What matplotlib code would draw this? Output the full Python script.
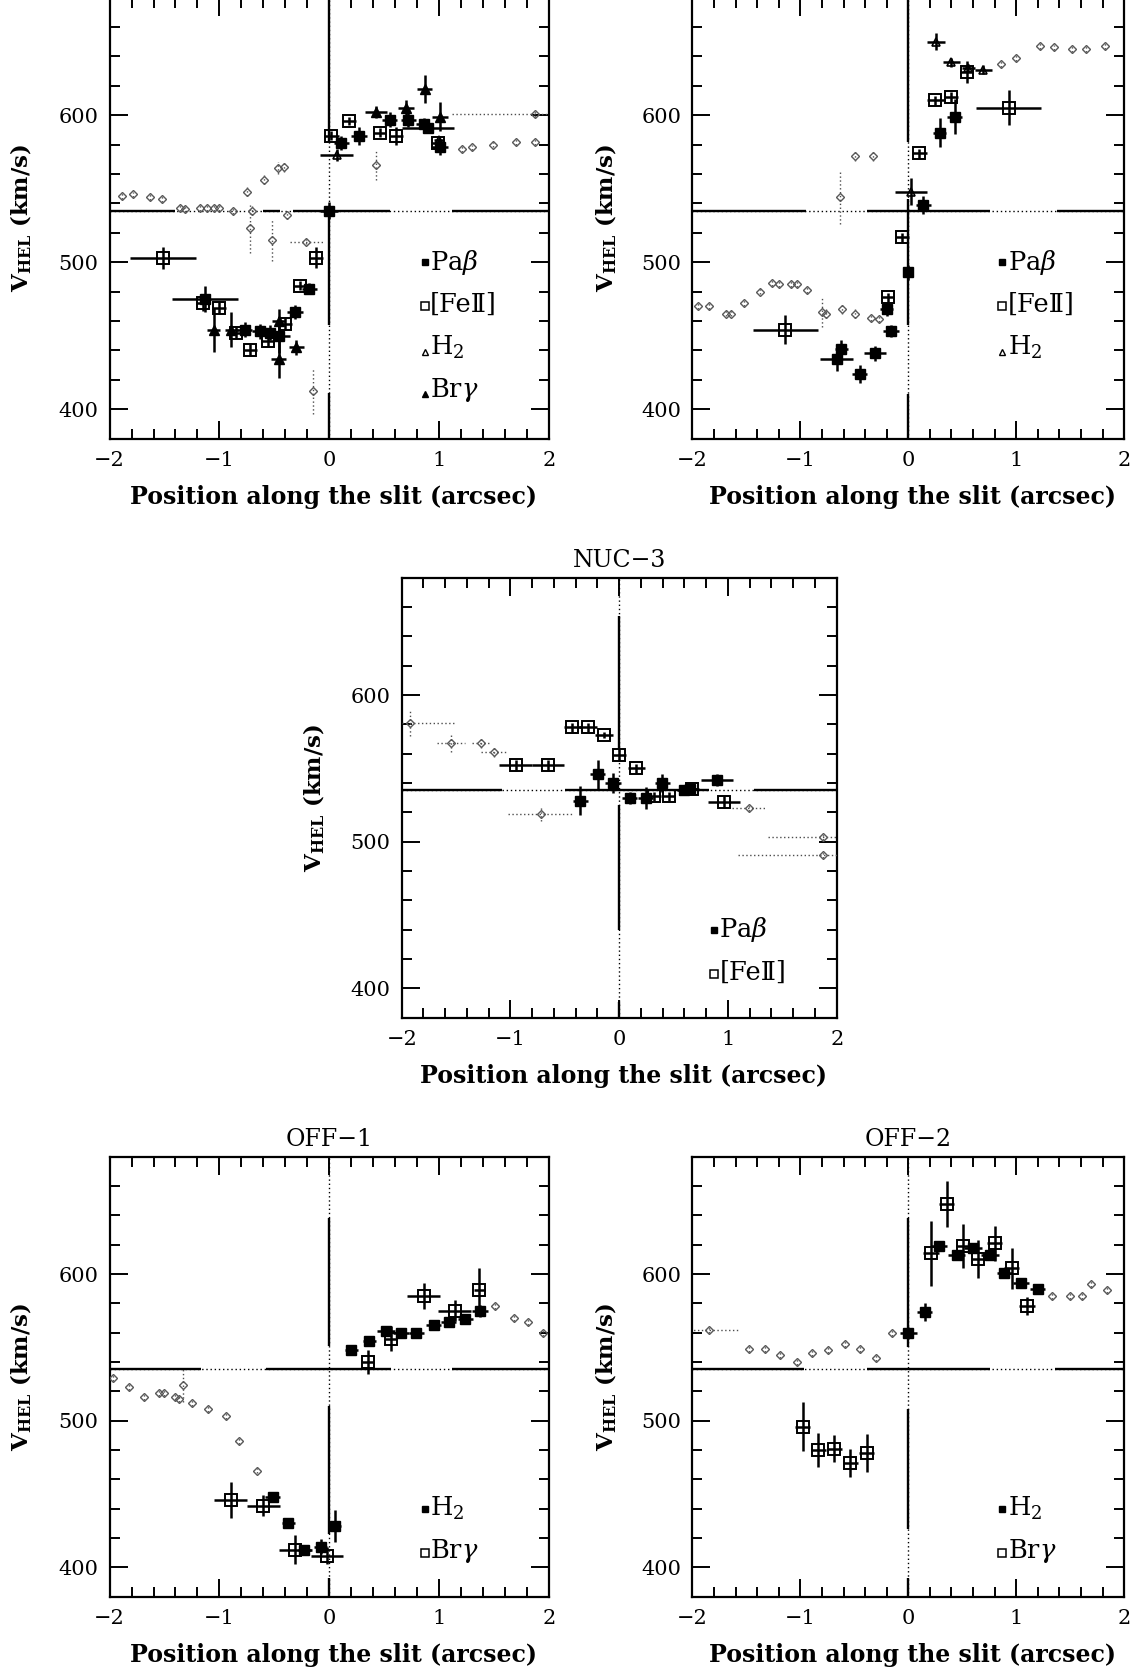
import matplotlib
matplotlib.use('Agg')
import matplotlib.pyplot as plt
from matplotlib.ticker import MultipleLocator

plt.rcParams['font.family'] = ['DejaVu Serif', 'DejaVu Sans']
plt.rcParams['mathtext.fontset'] = 'dejavuserif'

# ---------------- data ----------------
# Top-left panel
tl_pab_x = [-1.13, -0.77, -0.63, -0.54, -0.46, -0.31, -0.18, 0.00, 0.11, 0.27, 0.55, 0.72, 0.86, 0.90, 1.01]
tl_pab_y = [475, 454, 453, 452, 450, 466, 482, 535, 581, 586, 597, 597, 594, 591, 578]
tl_pab_xe = [0.30, 0.07, 0.07, 0.07, 0.10, 0.07, 0.07, 0.08, 0.07, 0.07, 0.07, 0.07, 0.07, 0.24, 0.07]
tl_pab_ye = [9, 5, 5, 5, 12, 5, 4, 6, 5, 6, 5, 5, 4, 3, 5]

tl_fe_x = [-1.51, -1.15, -1.00, -0.85, -0.72, -0.56, -0.40, -0.27, -0.12, 0.02, 0.18, 0.46, 0.61, 0.99]
tl_fe_y = [503, 472, 469, 452, 440, 446, 458, 484, 503, 586, 596, 588, 586, 581]
tl_fe_xe = [0.30, 0.06, 0.06, 0.06, 0.06, 0.06, 0.06, 0.06, 0.06, 0.07, 0.06, 0.06, 0.06, 0.06]
tl_fe_ye = [7.5, 5, 4, 4, 4, 4, 4, 3, 7, 3, 3, 3, 6, 3]

tl_h2_x = [0.07, 1.00]
tl_h2_y = [573, 583]
tl_h2_xe = [0.15, 0.05]
tl_h2_ye = [4, 3]

tl_brg_x = [-1.05, -0.89, -0.46, -0.46, -0.30, 0.43, 0.70, 0.87, 1.01]
tl_brg_y = [454, 454, 434, 460, 442, 602, 605, 618, 599]
tl_brg_xe = [0.06, 0.06, 0.07, 0.06, 0.07, 0.10, 0.07, 0.07, 0.07]
tl_brg_ye = [15, 12, 13, 8, 5, 4, 5, 9.5, 10]

tl_grey_x = [-1.89, -1.79, -1.63, -1.52, -1.36, -1.31, -1.18, -1.11, -1.05, -1.00, -0.88, -0.75, -0.70,
             -0.72, -0.59, -0.47, -0.41, -0.52, -0.38, -0.21, -0.15, 0.43, 1.21, 1.30, 1.49, 1.70, 1.87, 1.87]
tl_grey_y = [545, 546, 544, 543, 537, 536, 537, 537, 537, 537, 535, 548, 535,
             523, 556, 564, 565, 515, 532, 514, 412, 566, 577, 578, 580, 582, 582, 601]
tl_grey_xe = [0, 0, 0, 0, 0, 0, 0, 0, 0, 0, 0, 0, 0,
              0, 0, 0, 0, 0, 0, 0.15, 0, 0, 0, 0, 0, 0, 0, 0.75]
tl_grey_ye = [2, 2, 2, 2, 2, 2, 2, 2, 2, 2, 2, 3, 3,
              17, 3, 4, 4, 14, 3, 2, 15, 10, 2, 2, 2, 2, 2, 2]

# Top-right panel
tr_pab_x = [-0.665, -0.62, -0.45, -0.31, -0.20, -0.16, 0.00, 0.14, 0.29, 0.43]
tr_pab_y = [434, 441, 424, 438, 468, 453, 493, 539, 588, 599]
tr_pab_xe = [0.15, 0.06, 0.07, 0.10, 0.06, 0.07, 0.04, 0.07, 0.06, 0.07]
tr_pab_ye = [8, 6, 6, 5, 5, 4, 5, 6, 10, 12]

tr_fe_x = [-1.14, -0.19, -0.057, 0.10, 0.25, 0.40, 0.54, 0.93]
tr_fe_y = [454, 476, 517, 574, 610, 612, 629, 605]
tr_fe_xe = [0.30, 0.05, 0.06, 0.07, 0.08, 0.06, 0.06, 0.30]
tr_fe_ye = [10, 3, 3, 3, 3, 4, 7.5, 12]

tr_h2_x = [0.025, 0.256, 0.40, 0.556, 0.695]
tr_h2_y = [548, 650, 636, 632, 631]
tr_h2_xe = [0.15, 0.08, 0.08, 0.06, 0.08]
tr_h2_ye = [9, 6, 3, 3, 3]

tr_grey_x = [-1.95, -1.85, -1.69, -1.64, -1.52, -1.37, -1.26, -1.20, -1.09, -1.03, -0.935, -0.80, -0.765,
             -0.61, -0.49, -0.35, -0.27, -0.63, -0.49, -0.33, 0.86, 1.00, 1.22, 1.35, 1.52, 1.65, 1.82]
tr_grey_y = [470, 470, 465, 465, 472, 480, 486, 485, 485, 485, 481, 466, 465,
             468, 465, 462, 461, 544, 572, 572, 635, 639, 647, 646, 645, 645, 647]
tr_grey_xe = [0] * 27
tr_grey_ye = [2, 2, 2, 2, 2, 2, 2, 2, 2, 2, 2, 10, 3,
              3, 3, 2, 2, 18, 3, 3, 2, 2, 2, 2, 2, 2, 2]

# NUC-3 panel
nuc_pab_x = [-0.356, -0.196, -0.058, 0.098, 0.242, 0.395, 0.60, 0.65, 0.90]
nuc_pab_y = [528, 546, 540, 530, 530, 540, 535, 536, 542]
nuc_pab_xe = [0.07, 0.07, 0.07, 0.07, 0.07, 0.07, 0.07, 0.07, 0.15]
nuc_pab_ye = [10, 10, 7, 4, 7.5, 6, 3, 3, 4]

nuc_fe_x = [-0.953, -0.656, -0.432, -0.288, -0.141, 0.00, 0.159, 0.32, 0.457, 0.67, 0.962]
nuc_fe_y = [552, 552, 578, 578, 573, 559, 550, 531, 531, 536, 527]
nuc_fe_xe = [0.15, 0.15, 0.08, 0.08, 0.08, 0.06, 0.08, 0.06, 0.06, 0.06, 0.15]
nuc_fe_ye = [4, 4, 3, 3, 2, 4, 3, 3, 3, 2, 4]

nuc_grey_x = [-1.92, -1.55, -1.275, -1.15, -0.72, 1.19, 1.87, 1.87]
nuc_grey_y = [581, 567, 567, 561, 519, 523, 503, 491]
nuc_grey_xe = [0.40, 0.13, 0.08, 0.12, 0.30, 0.15, 0.50, 0.78]
nuc_grey_ye = [9, 6, 3, 3, 5, 2, 2, 2]

# OFF-1 panel
off1_h2_x = [-0.516, -0.373, -0.228, -0.076, 0.052, 0.203, 0.364, 0.516, 0.653, 0.795, 0.95, 1.087, 1.239, 1.375]
off1_h2_y = [448, 430, 412, 414, 428, 548, 554, 561, 560, 560, 565, 567, 569, 575]
off1_h2_xe = [0.07, 0.06, 0.06, 0.06, 0.06, 0.06, 0.06, 0.08, 0.07, 0.07, 0.07, 0.07, 0.07, 0.07]
off1_h2_ye = [3, 3, 3, 5, 11, 3, 3, 3, 3, 3, 3, 3, 3, 4]

off1_brg_x = [-0.896, -0.60, -0.31, -0.02, 0.35, 0.56, 0.86, 1.145, 1.366]
off1_brg_y = [446, 442, 412, 408, 540, 556, 585, 575, 589]
off1_brg_xe = [0.15, 0.15, 0.15, 0.15, 0.05, 0.05, 0.15, 0.15, 0.05]
off1_brg_ye = [12.5, 7, 10, 6, 8.5, 8.5, 9, 7, 15]

off1_grey_x = [-1.97, -1.82, -1.685, -1.55, -1.50, -1.40, -1.37, -1.336, -1.245, -1.108, -0.94, -0.82, -0.66,
               1.51, 1.68, 1.815, 1.95]
off1_grey_y = [529, 523, 516, 519, 519, 516, 515, 524, 512, 508, 503, 486, 466,
               578, 570, 567, 560]
off1_grey_xe = [0] * 17
off1_grey_ye = [2, 2, 2, 2, 2, 2, 2, 11, 2, 2, 2, 2, 2, 2, 2, 2, 2]

# OFF-2 panel
off2_h2_x = [0.00, 0.154, 0.284, 0.448, 0.60, 0.756, 0.889, 1.044, 1.198]
off2_h2_y = [560, 574, 619, 613, 618, 613, 601, 594, 590]
off2_h2_xe = [0.08, 0.07, 0.07, 0.08, 0.08, 0.08, 0.07, 0.07, 0.07]
off2_h2_ye = [4, 6, 3, 3, 3, 3, 3, 3, 3]

off2_brg_x = [-0.98, -0.834, -0.685, -0.537, -0.386, 0.21, 0.355, 0.51, 0.648, 0.80, 0.957, 1.10]
off2_brg_y = [496, 480, 481, 471, 478, 614, 648, 619, 610, 621, 604, 578]
off2_brg_xe = [0.07] * 12
off2_brg_ye = [17, 11.4, 9.5, 9.7, 13, 22, 15.7, 15, 13, 12, 14, 6]

off2_grey_x = [-1.85, -1.48, -1.33, -1.19, -1.034, -0.895, -0.74, -0.587, -0.448, -0.30, -0.148,
               1.328, 1.497, 1.605, 1.69, 1.84]
off2_grey_y = [562, 549, 549, 545, 540, 546, 548, 552, 549, 543, 560, 585, 585, 585, 593, 589]
off2_grey_xe = [0.28] + [0] * 15
off2_grey_ye = [2] * 16

v_sys = 535
x_ticks = [-2, -1, 0, 1, 2]
y_ticks = [400, 500, 600]
titles = ['NUC\u22123', 'OFF\u22121', 'OFF\u22122']
lab_pab = r'Pa$\beta$'
lab_fe = '[Fe\u2161]'
lab_h2 = r'H$_2$'
lab_brg = r'Br$\gamma$'

# ---------------- figure ----------------
W, H = 1138, 1668
fig = plt.figure(figsize=(W / 100, H / 100), dpi=100)


def px_axes(left, top, width, height):
    return fig.add_axes([left / W, 1 - (top + height) / H, width / W, height / H])


STY = {
    'fill_sq': dict(fmt='s', ms=6.5, mfc='k', mec='k', mew=1.0),
    'open_sq': dict(fmt='s', ms=8, mfc='none', mec='k', mew=1.4),
    'open_tri': dict(fmt='^', ms=6, mfc='none', mec='k', mew=1.2),
    'fill_tri': dict(fmt='^', ms=7.5, mfc='k', mec='k', mew=1.0),
}


def series(ax, x, y, xe, ye, kind):
    ax.errorbar(x, y, xerr=xe, yerr=ye, ecolor='k', elinewidth=1.8, capsize=0,
                zorder=4, **STY[kind])


def grey(ax, x, y, xe, ye):
    eb = ax.errorbar(x, y, xerr=xe, yerr=ye, fmt='D', ms=4.5, mfc='none', mec='0.35', mew=1.0,
                     ecolor='0.3', elinewidth=1.0, capsize=0, zorder=3)
    for c in eb[2]:
        c.set_linestyle((0, (1, 1.8)))


def ref_lines(ax, h_solid, v_solid):
    dots = (0, (1, 2.0))
    ax.plot([-2, 2], [v_sys, v_sys], color='k', lw=1.0, ls=dots, zorder=2)
    ax.plot([0, 0], [380, 680], color='k', lw=1.0, ls=dots, zorder=2)
    for a, b in h_solid:
        ax.plot([a, b], [v_sys, v_sys], color='k', lw=1.7, zorder=2, solid_capstyle='butt')
    for a, b in v_solid:
        ax.plot([0, 0], [a, b], color='k', lw=1.7, zorder=2, solid_capstyle='butt')


def frame(ax):
    ax.set_xlim(-2, 2)
    ax.set_ylim(380, 680)
    ax.set_xticks(x_ticks)
    ax.set_yticks(y_ticks)
    ax.xaxis.set_minor_locator(MultipleLocator(0.2))
    ax.yaxis.set_minor_locator(MultipleLocator(20))
    ax.tick_params(which='both', direction='in', top=True, right=True, width=1.4, labelsize=15)
    ax.tick_params(axis='x', which='major', length=13, pad=9)
    ax.tick_params(axis='y', which='major', length=13, pad=8)
    ax.tick_params(which='minor', length=7.5)
    for s in ax.spines.values():
        s.set_linewidth(1.6)
    ax.text(0.51, -0.132, 'Position along the slit (arcsec)', transform=ax.transAxes,
            ha='center', va='center', fontsize=17, fontweight='bold')
    ax.text(-0.2, 0.5, r'V$_{\mathbf{HEL}}$ (km/s)', transform=ax.transAxes, rotation=90,
            ha='center', va='center', fontsize=16.5, fontweight='bold')


def legend(ax, entries, y0, dy=29, xm=0.87):
    for i, (lab, kind) in enumerate(entries):
        yy = y0 - i * dy
        if kind == 'fill_sq':
            ax.plot([xm], [yy], 's', ms=5, mfc='k', mec='k', zorder=5)
        elif kind == 'open_sq':
            ax.plot([xm], [yy - 1], 's', ms=5.5, mfc='none', mec='k', mew=1.1, zorder=5)
        elif kind == 'open_tri':
            ax.plot([xm], [yy - 3], '^', ms=5, mfc='none', mec='k', mew=1.0, zorder=5)
        else:
            ax.plot([xm], [yy - 3], '^', ms=5, mfc='k', mec='k', zorder=5)
        ax.text(xm + 0.05, yy, lab, ha='left', va='center', fontsize=18.5, zorder=5)


# Top-left
ax = px_axes(109.6, -2.5, 439.2, 441)
ref_lines(ax, [(-2, -1.4), (-0.6, -0.45), (-0.33, 0.55), (1.12, 2)],
          [(582, 680), (457, 535), (380, 411)])
grey(ax, tl_grey_x, tl_grey_y, tl_grey_xe, tl_grey_ye)
series(ax, tl_fe_x, tl_fe_y, tl_fe_xe, tl_fe_ye, 'open_sq')
series(ax, tl_h2_x, tl_h2_y, tl_h2_xe, tl_h2_ye, 'open_tri')
series(ax, tl_pab_x, tl_pab_y, tl_pab_xe, tl_pab_ye, 'fill_sq')
series(ax, tl_brg_x, tl_brg_y, tl_brg_xe, tl_brg_ye, 'fill_tri')
frame(ax)
legend(ax, [(lab_pab, 'fill_sq'), (lab_fe, 'open_sq'), (lab_h2, 'open_tri'), (lab_brg, 'fill_tri')], 500)

# Top-right
ax = px_axes(692.4, -2.5, 431.8, 441)
ref_lines(ax, [(-2, -0.95), (-0.38, 0.756), (1.374, 2)],
          [(582, 680), (457, 543), (380, 410)])
grey(ax, tr_grey_x, tr_grey_y, tr_grey_xe, tr_grey_ye)
series(ax, tr_fe_x, tr_fe_y, tr_fe_xe, tr_fe_ye, 'open_sq')
series(ax, tr_h2_x, tr_h2_y, tr_h2_xe, tr_h2_ye, 'open_tri')
series(ax, tr_pab_x, tr_pab_y, tr_pab_xe, tr_pab_ye, 'fill_sq')
frame(ax)
legend(ax, [(lab_pab, 'fill_sq'), (lab_fe, 'open_sq'), (lab_h2, 'open_tri')], 500)

# NUC-3
ax = px_axes(401.7, 577.7, 435, 440)
ref_lines(ax, [(-2, -1.076), (-0.50, 0.825), (1.24, 2)],
          [(564, 654), (440, 525), (380, 391)])
grey(ax, nuc_grey_x, nuc_grey_y, nuc_grey_xe, nuc_grey_ye)
series(ax, nuc_fe_x, nuc_fe_y, nuc_fe_xe, nuc_fe_ye, 'open_sq')
series(ax, nuc_pab_x, nuc_pab_y, nuc_pab_xe, nuc_pab_ye, 'fill_sq')
frame(ax)
ax.set_title(titles[0], fontsize=17, pad=8)
legend(ax, [(lab_pab, 'fill_sq'), (lab_fe, 'open_sq')], 440)

# OFF-1
ax = px_axes(109.6, 1156.7, 439.2, 440)
ref_lines(ax, [(-2, -1.17), (-0.577, 0.56), (1.12, 2)],
          [(551, 638), (423, 510), (380, 393)])
grey(ax, off1_grey_x, off1_grey_y, off1_grey_xe, off1_grey_ye)
series(ax, off1_brg_x, off1_brg_y, off1_brg_xe, off1_brg_ye, 'open_sq')
series(ax, off1_h2_x, off1_h2_y, off1_h2_xe, off1_h2_ye, 'fill_sq')
frame(ax)
ax.set_title(titles[1], fontsize=17, pad=8)
legend(ax, [(lab_h2, 'fill_sq'), (lab_brg, 'open_sq')], 440)

# OFF-2
ax = px_axes(692.4, 1156.7, 431.8, 440)
ref_lines(ax, [(-2, -0.97), (-0.386, 0.756), (1.36, 2)],
          [(550, 638), (426, 508), (380, 393)])
grey(ax, off2_grey_x, off2_grey_y, off2_grey_xe, off2_grey_ye)
series(ax, off2_brg_x, off2_brg_y, off2_brg_xe, off2_brg_ye, 'open_sq')
series(ax, off2_h2_x, off2_h2_y, off2_h2_xe, off2_h2_ye, 'fill_sq')
frame(ax)
ax.set_title(titles[2], fontsize=17, pad=8)
legend(ax, [(lab_h2, 'fill_sq'), (lab_brg, 'open_sq')], 440)

fig.savefig('out.png', dpi=100)
